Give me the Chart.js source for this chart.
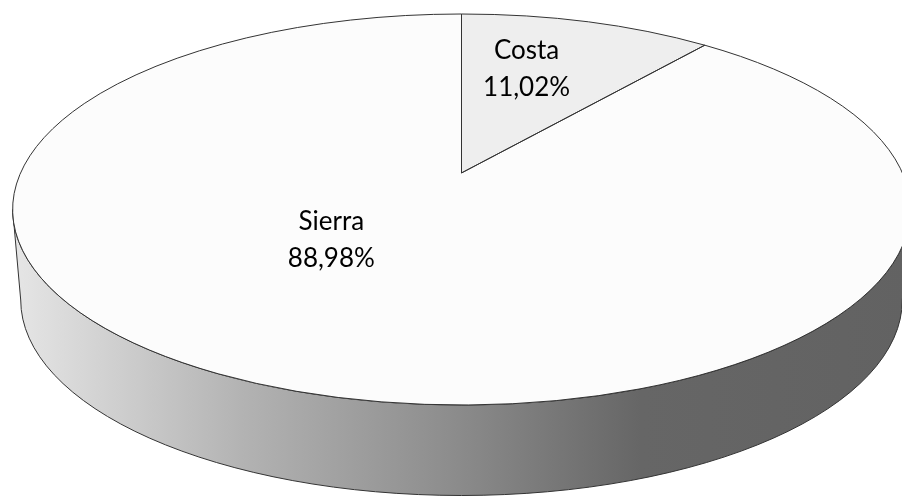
<!DOCTYPE html>
<html>
<head>
<meta charset="utf-8">
<script src="https://cdn.jsdelivr.net/npm/chart.js@4/dist/chart.umd.min.js"></script>
<style>
  html, body { margin: 0; padding: 0; background: #ffffff; }
  #wrap { width: 902px; height: 497px; }
  canvas { background: #ffffff; }
</style>
</head>
<body>
<div id="wrap"><canvas id="grafica" width="902" height="497"></canvas></div>
<script>
const regiones = ["Costa", "Sierra"];
const porcentajes = [11.02, 88.98];
const coloresCara = ["#eeeeee", "#fcfcfc"];

// geometría común: elipse de la tapa, vértice de los sectores, elipse de la base
function geometria(chart, opts) {
  const arcos = chart.getDatasetMeta(0).data;
  const cx = arcos[0].x, cy = arcos[0].y;
  const R = arcos[0].outerRadius;
  return {
    arcos, cx, cy, R,
    rx: R * opts.aspecto,
    ry: R,
    ax: cx,
    ay: cy + opts.verticeDy * R,
    rxBase: R * opts.aspecto * opts.encogeBase,
    prof: opts.profundidad,
  };
}

// punto donde el radio (ángulo a, desde el vértice) corta la elipse de la tapa
function corteBorde(g, a, aspecto) {
  const dx = aspecto * Math.cos(a), dy = Math.sin(a);
  const ux = (g.ax - g.cx) / g.rx, uy = (g.ay - g.cy) / g.ry;
  const vx = dx / g.rx, vy = dy / g.ry;
  const A = vx * vx + vy * vy;
  const B = 2 * (ux * vx + uy * vy);
  const C = ux * ux + uy * uy - 1;
  const t = (-B + Math.sqrt(B * B - 4 * A * C)) / (2 * A);
  const px = g.ax + t * dx, py = g.ay + t * dy;
  return { px, py, phi: Math.atan2((py - g.cy) / g.ry, (px - g.cx) / g.rx) };
}

// ángulos de elipse [phi0, phi1] de cada sector, crecientes
function tramoElipse(g, arc, aspecto) {
  const p0 = corteBorde(g, arc.startAngle, aspecto);
  const p1 = corteBorde(g, arc.endAngle, aspecto);
  let f0 = p0.phi, f1 = p1.phi;
  while (f0 > arc.startAngle + 0.5) f0 -= 2 * Math.PI;
  while (f0 < arc.startAngle - Math.PI) f0 += 2 * Math.PI;
  while (f1 <= f0) f1 += 2 * Math.PI;
  if (arc.endAngle - arc.startAngle >= 2 * Math.PI - 1e-6) f1 = f0 + 2 * Math.PI;
  return { p0, p1, f0, f1 };
}

// partes de [s, e] que caen en la mitad delantera (0..PI)
function tramosFrontales(s, e) {
  const res = [];
  for (let k = -1; k <= 2; k++) {
    const lo = Math.max(s, 2 * Math.PI * k);
    const hi = Math.min(e, 2 * Math.PI * k + Math.PI);
    if (hi > lo) res.push([lo, hi]);
  }
  return res;
}

const pastel3d = {
  id: "pastel3d",
  beforeDatasetsDraw(chart, args, opts) {
    const ctx = chart.ctx;
    if (!chart.getDatasetMeta(0).data.length) return;
    const g = geometria(chart, opts);

    const grad = ctx.createLinearGradient(g.cx - g.rx, 0, g.cx + g.rx, 0);
    grad.addColorStop(0, "#e6e6e6");
    grad.addColorStop(0.26, "#b2b2b2");
    grad.addColorStop(0.48, "#8e8e8e");
    grad.addColorStop(0.7, "#666666");
    grad.addColorStop(1, "#626262");

    // pared lateral
    g.arcos.forEach((arc) => {
      const { f0, f1 } = tramoElipse(g, arc, opts.aspecto);
      tramosFrontales(f0, f1).forEach(([a0, a1]) => {
        ctx.save();
        ctx.beginPath();
        ctx.ellipse(g.cx, g.cy, g.rx, g.ry, 0, a0, a1, false);
        ctx.ellipse(g.cx, g.cy + g.prof, g.rxBase, g.ry, 0, a1, a0, true);
        ctx.closePath();
        ctx.fillStyle = grad;
        ctx.fill();
        ctx.strokeStyle = opts.borde;
        ctx.lineWidth = 1;
        ctx.stroke();
        ctx.restore();
      });
    });

    // tapa: sectores de la librería, recortados a la elipse
    ctx.save();
    ctx.beginPath();
    ctx.ellipse(g.cx, g.cy, g.rx, g.ry, 0, 0, 2 * Math.PI);
    ctx.clip();
    const k = opts.ampliacion;
    ctx.translate(g.ax, g.ay);
    ctx.scale(opts.aspecto * k, k);
    ctx.translate(-g.cx, -g.cy);
  },
  afterDatasetsDraw(chart, args, opts) {
    const ctx = chart.ctx;
    if (!chart.getDatasetMeta(0).data.length) return;
    ctx.restore();
    const g = geometria(chart, opts);

    ctx.save();
    ctx.strokeStyle = opts.borde;
    ctx.lineWidth = 1;
    g.arcos.forEach((arc) => {
      const { p0, f0, f1 } = tramoElipse(g, arc, opts.aspecto);
      ctx.beginPath();
      ctx.moveTo(g.ax, g.ay);
      ctx.lineTo(p0.px, p0.py);
      ctx.ellipse(g.cx, g.cy, g.rx, g.ry, 0, f0, f1, false);
      ctx.closePath();
      ctx.stroke();
    });

    // etiquetas: nombre y porcentaje
    ctx.fillStyle = "#000000";
    ctx.font = "26px Lato, 'Open Sans', sans-serif";
    ctx.textAlign = "center";
    ctx.textBaseline = "alphabetic";
    g.arcos.forEach((arc, i) => {
      const [dx, dy] = opts.posEtiquetas[i];
      const x = g.cx + dx * g.rx;
      const y = g.cy + dy * g.ry;
      const valor = porcentajes[i].toFixed(2).replace(".", ",") + "%";
      ctx.fillText(regiones[i], x, y - 9);
      ctx.fillText(valor, x, y + 28);
    });
    ctx.restore();
  },
};

new Chart(document.getElementById("grafica").getContext("2d"), {
  type: "pie",
  data: {
    labels: regiones,
    datasets: [
      {
        data: porcentajes,
        backgroundColor: coloresCara,
        borderWidth: 0,
        clip: false,
      },
    ],
  },
  options: {
    responsive: false,
    animation: false,
    layout: {
      padding: { top: 14, bottom: 92, left: 266, right: 245 },
    },
    plugins: {
      legend: { display: false },
      tooltip: { enabled: false },
      pastel3d: {
        aspecto: 2.296,
        profundidad: 90.5,
        encogeBase: 0.982,
        verticeDy: -0.187,
        ampliacion: 1.4,
        borde: "#333333",
        posEtiquetas: [
          [0.145, -0.724],
          [-0.29, 0.15],
        ],
      },
    },
  },
  plugins: [pastel3d],
});
</script>
</body>
</html>
